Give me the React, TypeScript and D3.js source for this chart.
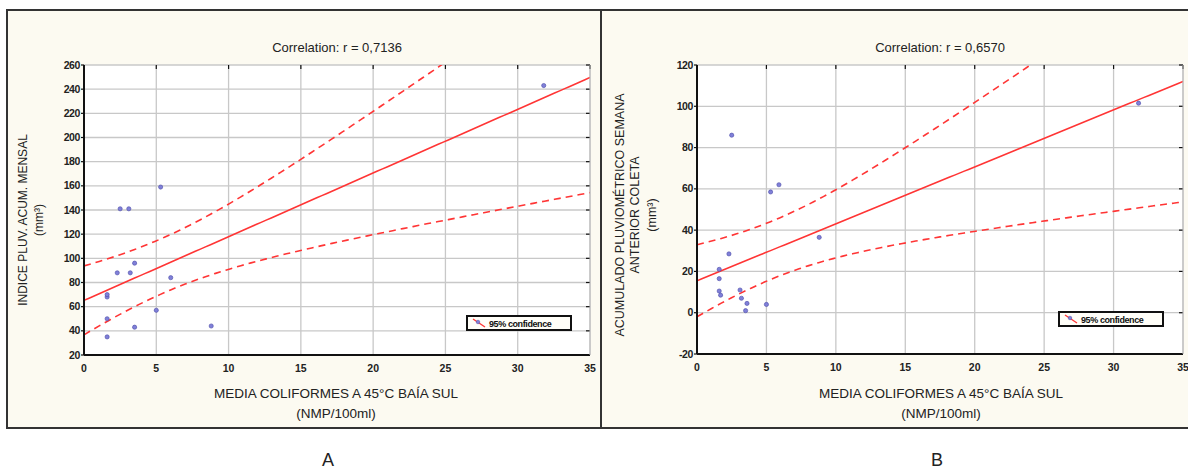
import React from "react";
import * as d3 from "d3";

const W = 1188;
const H = 469;

// Panel A: coliform mean vs monthly accumulated rainfall
const coliformA = [1.6, 1.6, 1.6, 1.6, 2.3, 2.5, 3.1, 3.2, 3.5, 3.5, 5.0, 5.3, 6.0, 8.8, 31.8];
const rainA = [35, 50, 68, 70, 88, 141, 141, 88, 96, 43, 57, 159, 84, 44, 243];
const yTicksA = [20, 40, 60, 80, 100, 120, 140, 160, 180, 200, 220, 240, 260];

// Panel B: coliform mean vs rainfall of the week before collection
const coliformB = [1.6, 1.6, 1.6, 1.7, 2.3, 2.5, 3.1, 3.2, 3.5, 3.6, 5.0, 5.3, 5.9, 8.8, 31.8];
const rainB = [21, 16.5, 10.5, 8.5, 28.5, 86, 11, 7, 1, 4.5, 4, 58.5, 62, 36.5, 101.5];
const yTicksB = [-20, 0, 20, 40, 60, 80, 100, 120];

const xTicks = [0, 5, 10, 15, 20, 25, 30, 35];

const NARROW = "'Liberation Sans Narrow', 'Liberation Sans', Arial, sans-serif";
const SANS = "'Liberation Sans', Arial, sans-serif";

// 97.5% quantile of Student t (Cornish-Fisher expansion)
function tQuantile975(df: number) {
  const z = 1.959964;
  const z3 = z ** 3, z5 = z ** 5, z7 = z ** 7;
  return z + (z3 + z) / (4 * df) + (5 * z5 + 16 * z3 + 3 * z) / (96 * df * df) +
    (3 * z7 + 19 * z5 + 17 * z3 - 15 * z) / (384 * df ** 3);
}

function fit(xs: number[], ys: number[]) {
  const n = xs.length;
  const mx = d3.mean(xs)!;
  const my = d3.mean(ys)!;
  const sxx = d3.sum(xs, (x) => (x - mx) ** 2);
  const sxy = d3.sum(xs.map((x, i) => (x - mx) * (ys[i] - my)));
  const b = sxy / sxx;
  const a = my - b * mx;
  const sse = d3.sum(xs.map((x, i) => (ys[i] - a - b * x) ** 2));
  const s = Math.sqrt(sse / (n - 2));
  const t = tQuantile975(n - 2);
  return {
    yhat: (x: number) => a + b * x,
    half: (x: number) => t * s * Math.sqrt(1 / n + (x - mx) ** 2 / sxx),
  };
}

type PanelProps = {
  id: string;
  frame: [number, number, number, number];
  plot: { x0: number; x1: number; y0: number; y1: number };
  xs: number[];
  ys: number[];
  yDomain: [number, number];
  yTicks: number[];
  title: string;
  yLabel: { text: string; x: number }[];
  yLabelCenter: number;
  yLabelSize: number;
  xLabel: string;
  xLabelCenter: number;
  legend: { x: number; y: number };
};

function Panel(p: PanelProps) {
  const { x0, x1, y0, y1 } = p.plot;
  const x = d3.scaleLinear().domain([0, 35]).range([x0, x1]);
  const y = d3.scaleLinear().domain(p.yDomain).range([y1, y0]);
  const f = fit(p.xs, p.ys);
  const samples = d3.range(0, 101).map((i) => (35 * i) / 100);
  const mid = d3.line<number>().x((d) => x(d)).y((d) => y(f.yhat(d)))(samples)!;
  const up = d3.line<number>().x((d) => x(d)).y((d) => y(f.yhat(d) + f.half(d)))(samples)!;
  const lo = d3.line<number>().x((d) => x(d)).y((d) => y(f.yhat(d) - f.half(d)))(samples)!;
  const [fx, fy, fw, fh] = p.frame;
  const cx = (x0 + x1) / 2;
  return (
    <g>
      <rect x={fx} y={fy} width={fw} height={fh} fill="#fcfaf1" stroke="#333" strokeWidth={2} />
      <defs>
        <clipPath id={`clip-${p.id}`}>
          <rect x={x0} y={y0} width={x1 - x0} height={y1 - y0} />
        </clipPath>
      </defs>
      <text x={cx} y={52} textAnchor="middle" fontFamily={SANS} fontSize={13} fill="#222">
        {p.title}
      </text>
      <rect x={x0} y={y0} width={x1 - x0} height={y1 - y0} fill="#fff" />
      {xTicks.map((t) => (
        <line key={`gx${t}`} x1={x(t)} x2={x(t)} y1={y0} y2={y1} stroke="#c8c8c8" strokeWidth={1.3} />
      ))}
      {p.yTicks.map((t) => (
        <line key={`gy${t}`} x1={x0} x2={x1} y1={y(t)} y2={y(t)} stroke="#c8c8c8" strokeWidth={1.3} />
      ))}
      {xTicks.map((t) => (
        <line key={`tx${t}`} x1={x(t)} x2={x(t)} y1={y0} y2={y0 + 4} stroke="#111" strokeWidth={1.2} />
      ))}
      {p.yTicks.map((t) => (
        <g key={`ty${t}`}>
          <line x1={x1 - 4} x2={x1} y1={y(t)} y2={y(t)} stroke="#111" strokeWidth={1.2} />
          <line x1={x0 - 3} x2={x0} y1={y(t)} y2={y(t)} stroke="#111" strokeWidth={1.2} />
          <text x={x0 - 4} y={y(t) + 3.5} textAnchor="end" fontFamily={NARROW} fontSize={10.5}
            fontWeight={600} fill="#222" letterSpacing={-0.4}>
            {t}
          </text>
        </g>
      ))}
      {xTicks.map((t) => (
        <text key={`lx${t}`} x={x(t)} y={y1 + 17} textAnchor="middle" fontFamily={NARROW} fontSize={10.5}
          fontWeight={600} fill="#222">
          {t}
        </text>
      ))}
      <g clipPath={`url(#clip-${p.id})`} fill="none" stroke="#ff3535" strokeWidth={1.6}>
        <path d={mid} />
        <path d={up} strokeDasharray="7,5" />
        <path d={lo} strokeDasharray="7,5" />
      </g>
      {p.xs.map((v, i) => (
        <circle key={`p${i}`} cx={x(v)} cy={y(p.ys[i])} r={2.1} fill="#8080d8" stroke="#4a4aa8" strokeWidth={0.6} />
      ))}
      <line x1={x0} x2={x0} y1={y0} y2={y1} stroke="#111" strokeWidth={2} />
      <line x1={x0} x2={x1} y1={y1} y2={y1} stroke="#111" strokeWidth={2} />
      <line x1={x1} x2={x1} y1={y0} y2={y1} stroke="#bbb" strokeWidth={1} />
      {/* legend */}
      <g transform={`translate(${p.legend.x},${p.legend.y})`}>
        <rect x={0} y={0} width={104} height={14} fill="#fffef8" stroke="#111" strokeWidth={2} />
        <line x1={6} x2={18} y1={3} y2={11} stroke="#ff3535" strokeWidth={1.4} />
        <circle cx={11} cy={6} r={1.8} fill="#8080d8" stroke="#4a4aa8" strokeWidth={0.5} />
        <text x={22} y={10.5} fontFamily={NARROW} fontSize={9} fontWeight={600} fill="#111" letterSpacing={-0.4}>
          95% confidence
        </text>
      </g>
      {p.yLabel.map((l, i) => (
        <text
          key={`yl${i}`}
          transform={`translate(${l.x},${p.yLabelCenter}) rotate(-90)`}
          textAnchor="middle"
          fontFamily={NARROW}
          fontSize={p.yLabelSize}
          fill="#222"
        >
          {l.text}
        </text>
      ))}
      <text x={p.xLabelCenter} y={398} textAnchor="middle" fontFamily={SANS} fontSize={13.5} fill="#222">
        {p.xLabel}
      </text>
      <text x={p.xLabelCenter} y={418} textAnchor="middle" fontFamily={SANS} fontSize={13.5} fill="#222">
        (NMP/100ml)
      </text>
    </g>
  );
}

export default function App() {
  return (
    <svg
      width={W}
      height={H}
      viewBox={`0 0 ${W} ${H}`}
      style={{ position: "absolute", left: 0, top: 0, background: "#fff" }}
    >
      <Panel
        id="a"
        frame={[7, 10, 594, 418]}
        plot={{ x0: 84, x1: 590, y0: 65, y1: 355 }}
        xs={coliformA}
        ys={rainA}
        yDomain={[20, 260]}
        yTicks={yTicksA}
        title="Correlation: r = 0,7136"
        yLabel={[
          { text: "INDICE PLUV. ACUM. MENSAL", x: 27 },
          { text: "(mm³)", x: 43 },
        ]}
        yLabelCenter={220}
        yLabelSize={12}
        xLabel="MEDIA COLIFORMES A 45°C BAÍA SUL"
        xLabelCenter={336}
        legend={{ x: 467, y: 316 }}
      />
      <Panel
        id="b"
        frame={[601, 10, 600, 418]}
        plot={{ x0: 697, x1: 1183, y0: 65, y1: 354 }}
        xs={coliformB}
        ys={rainB}
        yDomain={[-20, 120]}
        yTicks={yTicksB}
        title="Correlation: r = 0,6570"
        yLabel={[
          { text: "ACUMULADO PLUVIOMÉTRICO SEMANA", x: 624 },
          { text: "ANTERIOR COLETA", x: 639 },
          { text: "(mm³)", x: 656 },
        ]}
        yLabelCenter={215}
        yLabelSize={12.5}
        xLabel="MEDIA COLIFORMES A 45°C  BAÍA SUL"
        xLabelCenter={941}
        legend={{ x: 1059, y: 312 }}
      />
      <text x={328} y={466} textAnchor="middle" fontFamily={SANS} fontSize={18} fill="#222">
        A
      </text>
      <text x={937} y={466} textAnchor="middle" fontFamily={SANS} fontSize={18} fill="#222">
        B
      </text>
    </svg>
  );
}
